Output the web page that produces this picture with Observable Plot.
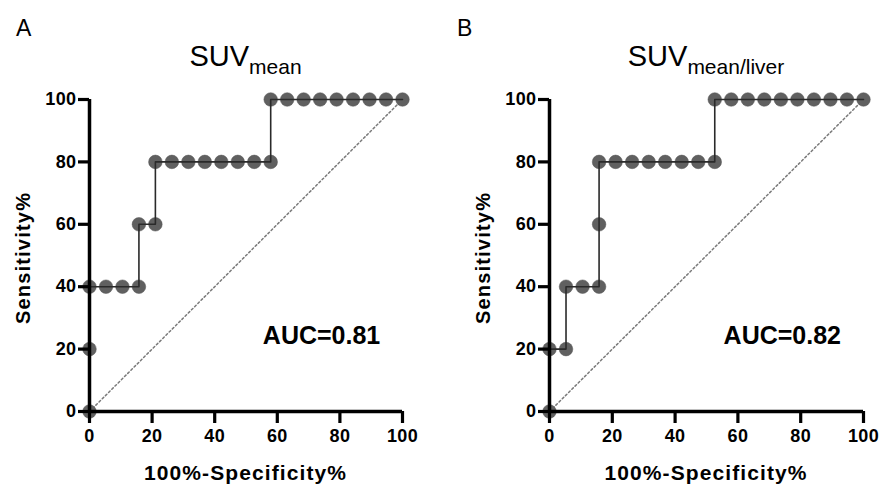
<!DOCTYPE html>
<html>
<head>
<meta charset="utf-8">
<script src="https://cdn.jsdelivr.net/npm/d3@7"></script>
<script src="https://cdn.jsdelivr.net/npm/@observablehq/plot@0.6"></script>
<style>
  body { margin: 0; background: #fff; }
  #wrap { position: relative; width: 882px; height: 488px; overflow: hidden; background: #fff; }
  #wrap > svg { position: absolute; top: 0; }
  .ov { position: absolute; left: 0; top: 0; pointer-events: none; }
</style>
</head>
<body>
<div id="wrap"></div>
<script>
// ---- data ----
const ticks = [0, 20, 40, 60, 80, 100];
const diag = [0, 100];

// Panel A: SUVmean
const fprA  = [0, 0, 0, 5.26, 10.53, 15.79, 15.79, 21.05, 21.05, 26.32, 31.58, 36.84, 42.11, 47.37, 52.63, 57.89, 57.89, 63.16, 68.42, 73.68, 78.95, 84.21, 89.47, 94.74, 100];
const sensA = [0, 20, 40, 40, 40, 40, 60, 60, 80, 80, 80, 80, 80, 80, 80, 80, 100, 100, 100, 100, 100, 100, 100, 100, 100];

// Panel B: SUVmean/liver
const fprB  = [0, 0, 5.26, 5.26, 10.53, 15.79, 15.79, 15.79, 21.05, 26.32, 31.58, 36.84, 42.11, 47.37, 52.63, 52.63, 57.89, 63.16, 68.42, 73.68, 78.95, 84.21, 89.47, 94.74, 100];
const sensB = [0, 20, 20, 40, 40, 40, 60, 80, 80, 80, 80, 80, 80, 80, 80, 100, 100, 100, 100, 100, 100, 100, 100, 100, 100];

const panels = [
  {letter: "A", title: "SUV", sub: "mean", auc: "AUC=0.81", fpr: fprA, sens: sensA, left: 0, marginLeft: 89, marginRight: 39},
  {letter: "B", title: "SUV", sub: "mean/liver", auc: "AUC=0.82", fpr: fprB, sens: sensB, left: 441, marginLeft: 108, marginRight: 19}
];

const FONT = "'Liberation Sans', Arial, Helvetica, sans-serif";
const wrap = document.getElementById("wrap");

function panelPlot(p) {
  const rows = p.fpr.map((f, i) => ({f, s: p.sens[i]}));
  return Plot.plot({
    width: 441, height: 488,
    marginLeft: p.marginLeft, marginRight: p.marginRight, marginTop: 99, marginBottom: 77,
    x: {domain: [0, 100]},
    y: {domain: [0, 100]},
    style: {fontFamily: FONT, fontSize: "18px", fontWeight: "bold", color: "#000", background: "transparent", overflow: "visible", letterSpacing: "0.4px"},
    marks: [
      Plot.line(diag, {x: d => d, y: d => d, stroke: "#7a7a7a", strokeWidth: 1.5, strokeDasharray: "2,2.5"}),
      Plot.dot(rows, {x: "f", y: "s", r: 6.8, fill: "#606060", stroke: "#555", strokeWidth: 0.5}),
      Plot.line(rows, {x: "f", y: "s", stroke: "#2a2a2a", strokeWidth: 1.6}),
      Plot.ruleX([0], {y1: 0, y2: 100, stroke: "#000", strokeWidth: 3.5}),
      Plot.ruleY([0], {x1: 0, x2: 100, stroke: "#000", strokeWidth: 3.5}),
      Plot.axisX(ticks, {tickSize: 12, tickPadding: 6, strokeWidth: 3.2, label: null, fontSize: 18, fontWeight: "bold", fill: "#000", stroke: "#000"}),
      Plot.axisY(ticks, {tickSize: 11, tickPadding: 2, strokeWidth: 3.2, label: null, fontSize: 18, fontWeight: "bold", fill: "#000", stroke: "#000"})
    ]
  });
}

panels.forEach(p => {
  const svg = panelPlot(p);
  svg.style.left = p.left + "px";
  wrap.appendChild(svg);
});

// overlay text (panel letters, titles, axis labels, AUC)
const ns = "http://www.w3.org/2000/svg";
const ov = document.createElementNS(ns, "svg");
ov.setAttribute("class", "ov");
ov.setAttribute("width", 882);
ov.setAttribute("height", 488);
ov.style.fontFamily = FONT;
function txt(attrs, content) {
  const t = document.createElementNS(ns, "text");
  for (const k in attrs) t.setAttribute(k, attrs[k]);
  if (content != null) t.textContent = content;
  ov.appendChild(t);
  return t;
}
panels.forEach(p => {
  const cx = p.left + (p.marginLeft + (441 - p.marginRight)) / 2;
  txt({x: p.left + 16, y: 36, "font-size": 23, fill: "#000"}, p.letter);
  const t = txt({x: cx, y: 66, "text-anchor": "middle", fill: "#000"});
  const a = document.createElementNS(ns, "tspan");
  a.setAttribute("font-size", 29); a.textContent = p.title; t.appendChild(a);
  const b = document.createElementNS(ns, "tspan");
  b.setAttribute("font-size", 21); b.setAttribute("dy", 8); b.textContent = p.sub; t.appendChild(b);
  txt({x: cx, y: 480, "text-anchor": "middle", "font-size": 21, "font-weight": "bold", "letter-spacing": 1.1, fill: "#000"}, "100%-Specificity%");
  const yx = p.left + p.marginLeft - 59;
  txt({transform: `translate(${yx},258) rotate(-90)`, "text-anchor": "middle", "font-size": 20, "font-weight": "bold", "letter-spacing": 1.2, fill: "#000"}, "Sensitivity%");
  const ax = p.left + p.marginLeft + (441 - p.marginRight - p.marginLeft) * 0.743;
  txt({x: ax, y: 344, "text-anchor": "middle", "font-size": 25, "font-weight": "bold", fill: "#000"}, p.auc);
});
wrap.appendChild(ov);
</script>
</body>
</html>
